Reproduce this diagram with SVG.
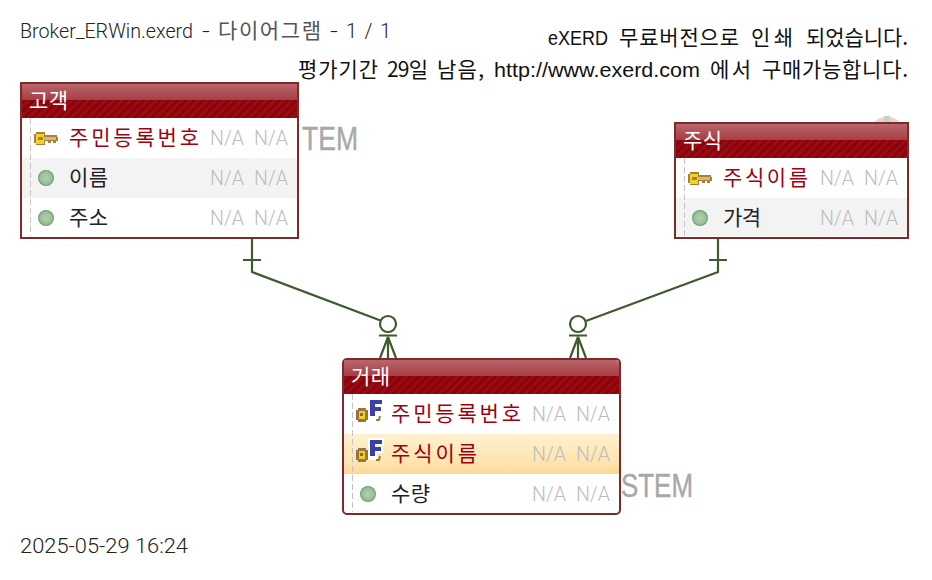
<svg xmlns="http://www.w3.org/2000/svg" xmlns:xlink="http://www.w3.org/1999/xlink" width="932" height="580" viewBox="0 0 932 580">
<style>
text{font-family:"Liberation Sans","Noto Sans CJK KR",sans-serif;font-size:20px}
.ko{font-family:"Noto Sans CJK KR","Liberation Sans",sans-serif;font-size:21px}
.th{font-family:Roboto,"Liberation Sans",sans-serif;font-weight:300}
.t{fill:#222}
.tk{fill:#555}
.d{fill:#111}
.pk{fill:#a00010}
.nm{fill:#222}
.hd{fill:#fff}
.na{fill:#bdbdbd;font-family:Roboto,"Liberation Sans",sans-serif;font-weight:300;font-size:21px}
.wm{fill:#a8a8a8;stroke:#a8a8a8;stroke-width:.4;font-size:33px}
.box{fill:#fff;stroke:#7f2a2a;stroke-width:2}
.dash{stroke:#c4c4c4;stroke-width:1;stroke-dasharray:6 3;fill:none}
.cn{stroke:#3f5a2d;stroke-width:2.200;fill:none}
.alt{fill:#f3f3f3}
</style>
<defs>
<pattern id="st" width="6" height="6" patternUnits="userSpaceOnUse" patternTransform="rotate(45)"><rect width="6" height="6" fill="#8c0208"/><rect width="3" height="6" fill="#960c14"/></pattern>
<linearGradient id="gl" x1="0" y1="0" x2="0" y2="1"><stop offset="0" stop-color="#b9666c"/><stop offset="1" stop-color="#a63e45"/></linearGradient>
<linearGradient id="hl" x1="0" y1="0" x2="0" y2="1"><stop offset="0" stop-color="#fff0cf"/><stop offset="0.75" stop-color="#fee3ac"/><stop offset="1" stop-color="#fdd794"/></linearGradient>
<radialGradient id="dot"><stop offset="0" stop-color="#b4cfa8"/><stop offset="0.7" stop-color="#9cc09a"/><stop offset="1" stop-color="#5f9f78"/></radialGradient>
<g id="key">
<path d="M0 2h2v-2h9v3h12v2h1v4h-2v2h-3v-2h-2v2h-3v-2h-3v4h-9v-2h-2z" fill="#a5803f"/>
<path d="M2 2h8v10h-8z" fill="#f2d324"/>
<path d="M10 5h12v3h-12z" fill="#d8bb6a"/>
<rect x="4" y="5" width="5" height="3" fill="#a5803f"/>
</g>
<g id="fk">
<path d="M2 8h8v2h2v10h-2v2h-8v-2h-2v-10h2z" fill="#9a7440"/>
<path d="M3 11h6v8h-6z" fill="#f0d020"/>
<rect x="4" y="13" width="3" height="3" fill="#8f6a2c"/>
<path d="M14 0h12v4h-7v3h6v4h-6v5h-5z" fill="#3b3fa6"/>
<path d="M20 20h3l1-4" stroke="#a07a3a" stroke-width="2" fill="none"/>
</g>
<g id="fkw">
<path d="M12 -2h16v8h-7v1h6v6h-6v7h-9z" fill="#fff"/>
<use xlink:href="#fk"/>
</g>
<circle id="attr" r="8" fill="url(#dot)"/>
</defs>

<g id="background">
<text class="wm" x="302" y="150" textLength="56" lengthAdjust="spacingAndGlyphs">TEM</text>
<text class="wm" x="621" y="497" textLength="72" lengthAdjust="spacingAndGlyphs">STEM</text>
<path d="M874 122q13-11 26 0z" fill="#f3d0d0"/>
<rect x="884" y="116" width="6" height="6" fill="#bcdcb6"/>
</g>

<g id="labels">
<text class="t" y="38"><tspan class="th" x="20" textLength="173" lengthAdjust="spacingAndGlyphs">Broker_ERWin.exerd</tspan> <tspan class="th" x="202" textLength="8" lengthAdjust="spacingAndGlyphs">-</tspan> <tspan class="ko tk" x="218" textLength="103">다이어그램</tspan> <tspan class="th" x="330" textLength="8" lengthAdjust="spacingAndGlyphs">-</tspan> <tspan class="th" x="346" textLength="45">1 / 1</tspan></text>
<text class="d" y="45"><tspan x="548" textLength="60" lengthAdjust="spacingAndGlyphs">eXERD</tspan> <tspan class="ko" x="619" textLength="120">무료버전으로</tspan> <tspan class="ko" x="751" textLength="42">인쇄</tspan> <tspan class="ko" x="806" textLength="102">되었습니다.</tspan></text>
<text class="d" y="77"><tspan class="ko" x="298" textLength="80">평가기간</tspan> <tspan class="ko" x="387" textLength="41">29일</tspan> <tspan class="ko" x="437" textLength="47">남음,</tspan> <tspan x="494" textLength="206" lengthAdjust="spacingAndGlyphs">http://www.exerd.com</tspan> <tspan class="ko" x="710" textLength="41">에서</tspan> <tspan class="ko" x="762" textLength="146">구매가능합니다.</tspan></text>
<text class="t th" x="20" y="553" textLength="168" lengthAdjust="spacingAndGlyphs">2025-05-29 16:24</text>
</g>

<g id="connectors">
<path class="cn" d="M252 238V272L380.500 320.500M243 260H261"/>
<circle class="cn" cx="388" cy="324" r="8"/>
<path class="cn" d="M379 335.500H397M388 337V358M388 337L380 358M388 337L396 358"/>
<path class="cn" d="M718 238V272L586 321M709 260H727"/>
<circle class="cn" cx="578" cy="324" r="8"/>
<path class="cn" d="M569 335.500H587M578 337V358M578 337L570 358M578 337L586 358"/>
</g>

<g id="node-customer">
<rect class="box" x="21" y="83" width="277" height="155"/>
<rect x="22" y="100" width="275" height="18" fill="url(#st)"/>
<rect x="22" y="84" width="275" height="16" fill="url(#gl)"/>
<rect class="alt" x="22" y="158" width="275" height="40"/>
<path class="dash" d="M30.500 118V236"/>
<text class="ko hd" x="29" y="108" textLength="39">고객</text>
<use xlink:href="#key" x="34" y="132"/>
<text class="ko pk" x="69" y="145" textLength="130">주민등록번호</text>
<text class="na" x="210" y="145" textLength="34" lengthAdjust="spacingAndGlyphs">N/A</text><text class="na" x="254" y="145" textLength="34" lengthAdjust="spacingAndGlyphs">N/A</text>
<use xlink:href="#attr" x="46" y="178"/>
<text class="ko nm" x="69" y="185" textLength="39">이름</text>
<text class="na" x="210" y="185" textLength="34" lengthAdjust="spacingAndGlyphs">N/A</text><text class="na" x="254" y="185" textLength="34" lengthAdjust="spacingAndGlyphs">N/A</text>
<use xlink:href="#attr" x="46" y="218"/>
<text class="ko nm" x="69" y="225" textLength="39">주소</text>
<text class="na" x="210" y="225" textLength="34" lengthAdjust="spacingAndGlyphs">N/A</text><text class="na" x="254" y="225" textLength="34" lengthAdjust="spacingAndGlyphs">N/A</text>
</g>

<g id="node-stock">
<rect class="box" x="675" y="123" width="233" height="115"/>
<rect x="676" y="140" width="231" height="18" fill="url(#st)"/>
<rect x="676" y="124" width="231" height="16" fill="url(#gl)"/>
<rect class="alt" x="676" y="198" width="231" height="38"/>
<path class="dash" d="M684.500 158V236"/>
<text class="ko hd" x="683" y="148" textLength="39">주식</text>
<use xlink:href="#key" x="688" y="172"/>
<text class="ko pk" x="723" y="185" textLength="85">주식이름</text>
<text class="na" x="820" y="185" textLength="34" lengthAdjust="spacingAndGlyphs">N/A</text><text class="na" x="864" y="185" textLength="34" lengthAdjust="spacingAndGlyphs">N/A</text>
<use xlink:href="#attr" x="700" y="218"/>
<text class="ko nm" x="723" y="225" textLength="38">가격</text>
<text class="na" x="820" y="225" textLength="34" lengthAdjust="spacingAndGlyphs">N/A</text><text class="na" x="864" y="225" textLength="34" lengthAdjust="spacingAndGlyphs">N/A</text>
</g>

<g id="node-trade">
<rect class="box" x="343" y="359" width="277" height="155" rx="4"/>
<rect x="344" y="376" width="275" height="18" fill="url(#st)"/>
<path d="M344 376V363a3 3 0 0 1 3-3H616a3 3 0 0 1 3 3V376z" fill="url(#gl)"/>
<rect x="344" y="434" width="275" height="40" fill="url(#hl)"/>
<path class="dash" d="M352.500 394V512"/>
<text class="ko hd" x="351" y="384" textLength="39">거래</text>
<use xlink:href="#fk" x="356" y="400"/>
<text class="ko pk" x="391" y="421" textLength="130">주민등록번호</text>
<text class="na" x="532" y="421" textLength="34" lengthAdjust="spacingAndGlyphs">N/A</text><text class="na" x="576" y="421" textLength="34" lengthAdjust="spacingAndGlyphs">N/A</text>
<use xlink:href="#fkw" x="356" y="440"/>
<text class="ko pk" x="391" y="461" textLength="86">주식이름</text>
<text class="na" x="532" y="461" textLength="34" lengthAdjust="spacingAndGlyphs">N/A</text><text class="na" x="576" y="461" textLength="34" lengthAdjust="spacingAndGlyphs">N/A</text>
<use xlink:href="#attr" x="368" y="494"/>
<text class="ko nm" x="391" y="501" textLength="39">수량</text>
<text class="na" x="532" y="501" textLength="34" lengthAdjust="spacingAndGlyphs">N/A</text><text class="na" x="576" y="501" textLength="34" lengthAdjust="spacingAndGlyphs">N/A</text>
</g>
</svg>
